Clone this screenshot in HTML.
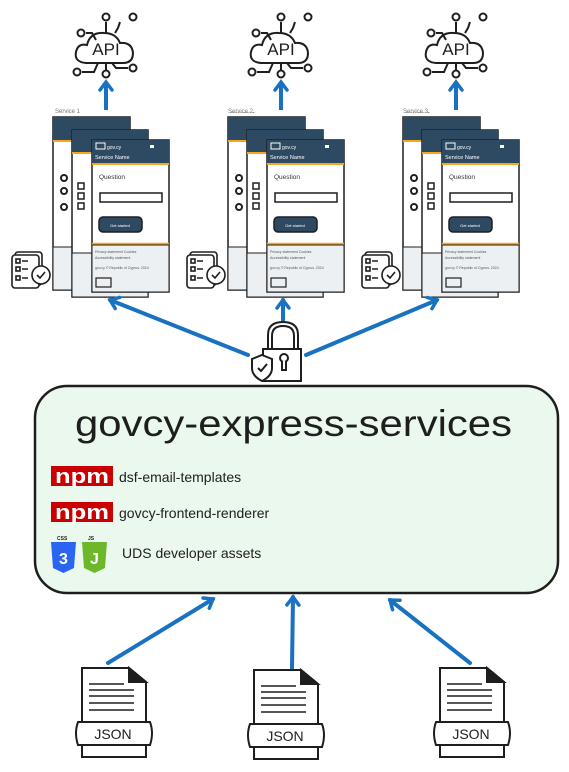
<!DOCTYPE html>
<html><head><meta charset="utf-8"><style>
html,body{margin:0;padding:0;background:#fff;}
svg{display:block;font-family:"Liberation Sans",sans-serif;}
</style></head><body>
<svg width="569" height="772" viewBox="0 0 569 772" xmlns="http://www.w3.org/2000/svg">
<defs>
<marker id="ah" markerWidth="16" markerHeight="16" refX="10" refY="8" orient="auto" markerUnits="userSpaceOnUse">
<path d="M2,2 L10,8 L2,14" fill="none" stroke="#1971c2" stroke-width="3.5" stroke-linecap="round"/>
</marker>
</defs>

<g id="s1">
 <g fill="none" stroke="#1e1e1e" stroke-width="2">
  <path d="M86,63 Q74,62 76,52 Q78,43 87,45 Q90,32 104,33 Q116,33 120,43 Q132,42 133,53 Q133,63 123,63 Z"/>
  <path d="M86,33 L92,33 L96,40 M106,22 L106,33 M120,22 L118,28 L115,33 M82,72 L94,72 L98,63 M112,63 L116,68 L128,68 M106,63 L106,71"/>
  <circle cx="81" cy="33" r="3.5"/><circle cx="106" cy="17" r="3.5"/><circle cx="133" cy="17" r="3.5"/>
  <circle cx="77" cy="72" r="3.5"/><circle cx="133" cy="68" r="3.5"/><circle cx="106" cy="74" r="3.5"/>
 </g>
 <text x="106" y="55" font-size="17" text-anchor="middle" fill="#1e1e1e">API</text>
 <line x1="106" y1="110" x2="106" y2="82" stroke="#1971c2" stroke-width="4" marker-end="url(#ah)"/>
 <text x="55" y="113" font-size="6" fill="#777">Service 1</text>
 <rect x="53" y="117" width="77" height="173" fill="#fff" stroke="#1e1e1e" stroke-width="1.5"/>
 <rect x="53" y="117" width="77" height="23" fill="#2e4a62"/>
 <line x1="53" y1="141" x2="130" y2="141" stroke="#f5a623" stroke-width="2"/>
 <rect x="53" y="247" width="77" height="43" fill="#edf0f3" stroke="#1e1e1e" stroke-width="1"/>
 <circle cx="64" cy="178" r="3" fill="none" stroke="#1e1e1e" stroke-width="2"/>
 <circle cx="64" cy="191" r="3" fill="none" stroke="#1e1e1e" stroke-width="2"/>
 <circle cx="64" cy="207" r="3" fill="none" stroke="#1e1e1e" stroke-width="2"/>
 <rect x="72" y="130" width="76" height="167" fill="#fff" stroke="#1e1e1e" stroke-width="1.5"/>
 <rect x="72" y="130" width="76" height="23" fill="#2e4a62"/>
 <line x1="72" y1="153" x2="148" y2="153" stroke="#f5a623" stroke-width="2"/>
 <rect x="72" y="253" width="76" height="44" fill="#edf0f3" stroke="#1e1e1e" stroke-width="1"/>
 <rect x="78" y="183" width="6" height="6" fill="none" stroke="#1e1e1e" stroke-width="1.5"/>
 <rect x="78" y="193" width="6" height="6" fill="none" stroke="#1e1e1e" stroke-width="1.5"/>
 <rect x="78" y="203" width="6" height="6" fill="none" stroke="#1e1e1e" stroke-width="1.5"/>
 <rect x="92" y="140" width="77" height="152" fill="#fff" stroke="#1e1e1e" stroke-width="1.5"/>
 <rect x="92" y="140" width="77" height="23" fill="#2e4a62"/>
 <rect x="96" y="143" width="9" height="6" fill="none" stroke="#fff" stroke-width="1"/>
 <text x="107" y="149" font-size="5" fill="#fff">gov.cy</text>
 <rect x="150" y="145" width="4" height="3" fill="#fff"/>
 <text x="95" y="159" font-size="5.5" fill="#fff">Service Name</text>
 <line x1="92" y1="164" x2="169" y2="164" stroke="#f5a623" stroke-width="2"/>
 <text x="99" y="179" font-size="6.5" fill="#333">Question</text>
 <rect x="100" y="193" width="62" height="9" fill="#fff" stroke="#1e1e1e" stroke-width="1.5"/>
 <rect x="99" y="217" width="43" height="15" rx="4" fill="#2e4a62" stroke="#1e1e1e" stroke-width="1.5"/>
 <text x="120" y="227" font-size="4" fill="#fff" text-anchor="middle">Get started</text>
 <line x1="92" y1="244" x2="169" y2="244" stroke="#f5a623" stroke-width="2.5"/>
 <rect x="92" y="245" width="77" height="47" fill="#edf0f3" stroke="#1e1e1e" stroke-width="1"/>
 <text x="95" y="253" font-size="3.5" fill="#555">Privacy statement   Cookies</text>
 <text x="95" y="259" font-size="3.5" fill="#555">Accessibility statement</text>
 <text x="95" y="269" font-size="3.5" fill="#555">gov.cy   © Republic of Cyprus, 2024</text>
 <rect x="96" y="278" width="15" height="9" fill="none" stroke="#1e1e1e" stroke-width="1.2"/>
 <g fill="#fff" stroke="#1e1e1e" stroke-width="1.6">
  <rect x="15" y="252" width="27" height="33" rx="3"/>
  <rect x="12" y="255" width="27" height="33" rx="3"/>
  <rect x="16" y="259" width="4" height="4"/><rect x="16" y="267" width="4" height="4"/><rect x="16" y="276" width="4" height="4"/>
  <path d="M22,261 H28 M22,269 H28 M22,278 H28"/>
  <circle cx="41" cy="275" r="9"/>
  <path d="M37,275 L40,278 L45,272" fill="none"/>
 </g>
</g>
<use href="#s1" transform="translate(175,0)"/>
<use href="#s1" transform="translate(350,0)"/>
<rect x="223" y="100" width="40" height="12" fill="#fff"/>
<text x="228" y="113" font-size="6" fill="#777">Service 2</text>
<rect x="398" y="100" width="40" height="12" fill="#fff"/>
<text x="403" y="113" font-size="6" fill="#777">Service 3</text>

<g stroke="#1971c2" stroke-width="4" fill="none" stroke-linecap="round">
 <line x1="248" y1="355" x2="110" y2="300" marker-end="url(#ah)"/>
 <line x1="306" y1="355" x2="437" y2="300" marker-end="url(#ah)"/>
 <line x1="283" y1="320" x2="283" y2="300" marker-end="url(#ah)"/>
</g>
<g fill="#fff" stroke="#1e1e1e" stroke-width="2">
 <path d="M268,350 V335 Q268,322 283,322 Q298,322 298,335 V350" fill="none"/>
 <path d="M272,350 V336 Q272,326 283,326 Q294,326 294,336 V350" fill="none"/>
 <rect x="263" y="349" width="38" height="32"/>
 <circle cx="284" cy="358" r="4"/><path d="M282,361 V370 H286 V361"/>
 <path d="M262,355 L272,359 V368 Q272,376 262,381 Q252,376 252,368 V359 Z"/>
 <path d="M258,368 L261,371 L267,364" fill="none"/>
</g>

<rect x="35" y="386" width="523" height="207" rx="32" fill="#ebf8ed" stroke="#1e1e1e" stroke-width="2.5"/>
<text x="75" y="436" font-size="37" fill="#1e1e1e" textLength="437" lengthAdjust="spacingAndGlyphs">govcy-express-services</text>
<g>
 <rect x="51" y="466" width="62" height="20" fill="#cb0000"/>
 <text x="82" y="483" font-size="20" font-weight="bold" fill="#fff" text-anchor="middle" textLength="54" lengthAdjust="spacingAndGlyphs">npm</text>
 <text x="119" y="482" font-size="14" fill="#1e1e1e">dsf-email-templates</text>
 <rect x="51" y="502" width="62" height="20" fill="#cb0000"/>
 <text x="82" y="519" font-size="20" font-weight="bold" fill="#fff" text-anchor="middle" textLength="54" lengthAdjust="spacingAndGlyphs">npm</text>
 <text x="119" y="518" font-size="14" fill="#1e1e1e">govcy-frontend-renderer</text>
 <text x="57" y="540" font-size="5" font-weight="bold" fill="#1e1e1e">CSS</text>
 <path d="M51,542 H76 L74,568 L63.5,573 L53,568 Z" fill="#2965f1"/>
 <text x="63.5" y="564" font-size="16" font-weight="bold" fill="#fff" text-anchor="middle">3</text>
 <text x="88" y="540" font-size="5" font-weight="bold" fill="#1e1e1e">JS</text>
 <path d="M82,542 H107 L105,568 L94.5,573 L84,568 Z" fill="#6cb82a"/>
 <text x="94.5" y="564" font-size="16" font-weight="bold" fill="#fff" text-anchor="middle">J</text>
 <text x="122" y="558" font-size="14" fill="#1e1e1e">UDS developer assets</text>
</g>

<g stroke="#1971c2" stroke-width="4" fill="none" stroke-linecap="round">
 <line x1="108" y1="663" x2="213" y2="599" marker-end="url(#ah)"/>
 <line x1="292" y1="668" x2="293" y2="597" marker-end="url(#ah)"/>
 <line x1="470" y1="663" x2="390" y2="600" marker-end="url(#ah)"/>
</g>
<g id="doc" fill="#fff" stroke="#1e1e1e" stroke-width="2">
 <path d="M82,668 H129 L146,682 V757 H82 Z"/>
 <path d="M129,668 V682 H146 Z" fill="#1e1e1e"/>
 <path d="M89,684 H124 M89,690 H134 M89,696 H134 M89,703 H134 M89,710 H134" stroke-width="1.5"/>
 <path d="M78,722 H150 Q154,733 150,745 H78 Q74,733 78,722 Z"/>
 <text x="113" y="739" font-size="14" fill="#1e1e1e" stroke="none" text-anchor="middle">JSON</text>
</g>
<use href="#doc" transform="translate(172,2)"/>
<use href="#doc" transform="translate(358,0)"/>
</svg>
</body></html>
